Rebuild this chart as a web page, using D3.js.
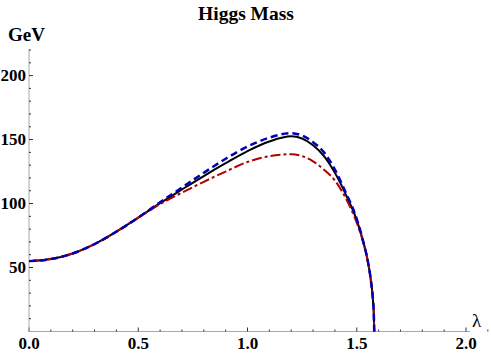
<!DOCTYPE html>
<html>
<head>
<meta charset="utf-8">
<script src="https://cdn.jsdelivr.net/npm/d3@7"></script>
<style>
  body { margin: 0; background: #fff; }
  text { font-family: "Liberation Serif", "Times New Roman", serif; }
</style>
</head>
<body>
<div id="chart"></div>
<script>
// lambda values shared by all three curves
const lambda = [0, 0.1, 0.2, 0.3, 0.4, 0.5, 0.6, 0.7, 0.8, 0.9, 1.0, 1.1, 1.2, 1.3, 1.35, 1.4, 1.45, 1.5, 1.53, 1.55, 1.565, 1.575, 1.578, 1.58]

// Higgs mass (GeV)
const massBlack = [55, 56.6, 61, 68.3, 78, 89, 100.3, 111, 121.5, 131.5, 141, 148.5, 152.5, 145.5, 137, 124, 107, 87, 70, 55.5, 39.5, 23, 14.5, 0]
const massBlue  = [55, 56.6, 61, 68.3, 78, 89, 101, 112.5, 124, 135, 144.5, 151.5, 155, 148, 140, 126.5, 108.5, 88, 70, 55.5, 39.5, 23, 14.5, 0]
const massRed   = [55, 56.6, 61, 68.3, 78, 89, 99.5, 108.5, 117, 125, 132.5, 137, 138.5, 133, 126.5, 118, 104, 85, 69.5, 55.5, 39.5, 23, 14.5, 0]

const xMajor = [0, 0.5, 1.0, 1.5, 2.0]
const yMajor = [50, 100, 150, 200]

const width = 491, height = 354

const svg = d3.select("#chart").append("svg")
    .attr("width", width)
    .attr("height", height)

const x = d3.scaleLinear().domain([0, 2]).range([29, 466])
const y = d3.scaleLinear().domain([0, 220]).range([331.5, 50])

// axes (Mathematica look: light grey line, small inward ticks)
const axisColor = "#a8a8a8"

const xMinor = d3.range(0, 2.1001, 0.1).map(d => +d.toFixed(2))
const yMinor = d3.range(0, 220.001, 10)

const gx = svg.append("g")
gx.append("line")
    .attr("x1", x(0)).attr("x2", 470)
    .attr("y1", y(0)).attr("y2", y(0))
    .attr("stroke", axisColor).attr("stroke-width", 1)
gx.selectAll(".xminor").data(xMinor).join("line")
    .attr("x1", d => x(d)).attr("x2", d => x(d))
    .attr("y1", y(0)).attr("y2", d => y(0) - (xMajor.some(m => Math.abs(m - d) < 1e-6) ? 4 : 2))
    .attr("stroke", "#333").attr("stroke-width", 1)
gx.selectAll(".xlab").data(xMajor).join("text")
    .attr("x", d => x(d))
    .attr("y", 349)
    .attr("text-anchor", "middle")
    .attr("font-size", 17)
    .attr("font-weight", "bold")
    .text(d => d3.format(".1f")(d))

const gy = svg.append("g")
gy.append("line")
    .attr("x1", x(0)).attr("x2", x(0))
    .attr("y1", y(0)).attr("y2", 49)
    .attr("stroke", axisColor).attr("stroke-width", 1)
gy.selectAll(".yminor").data(yMinor.filter(d => d > 0)).join("line")
    .attr("x1", x(0)).attr("x2", d => x(0) + (d % 50 === 0 ? 4 : 2))
    .attr("y1", d => y(d)).attr("y2", d => y(d))
    .attr("stroke", "#333").attr("stroke-width", 1)
gy.selectAll(".ylab").data(yMajor).join("text")
    .attr("x", 26)
    .attr("y", d => y(d) + 5.5)
    .attr("text-anchor", "end")
    .attr("font-size", 17)
    .attr("font-weight", "bold")
    .text(d => d)

// axis labels and title
svg.append("text")
    .attr("x", 8).attr("y", 41)
    .attr("font-size", 19)
    .attr("font-weight", "bold")
    .text("GeV")

svg.append("text")
    .attr("x", 472).attr("y", 327)
    .attr("font-size", 19)
    .text("λ")

svg.append("text")
    .attr("x", 246).attr("y", 20)
    .attr("text-anchor", "middle")
    .attr("font-size", 19.5)
    .attr("font-weight", "bold")
    .text("Higgs Mass")

// curves
const line = d3.line()
    .x(d => x(d[0]))
    .y(d => y(d[1]))
    .curve(d3.curveMonotoneX)

const series = [
  { vals: massBlack, color: "#000000", dash: null, w: 2 },
  { vals: massRed, color: "#b00000", dash: "10,3,3,3", w: 2 },
  { vals: massBlue, color: "#0000b8", dash: "7,4", w: 2.5 }
]

svg.selectAll(".curve").data(series).join("path")
    .attr("fill", "none")
    .attr("stroke", d => d.color)
    .attr("stroke-width", d => d.w)
    .attr("stroke-dasharray", d => d.dash)
    .attr("d", d => line(lambda.map((l, i) => [l, d.vals[i]])))
</script>
</body>
</html>
